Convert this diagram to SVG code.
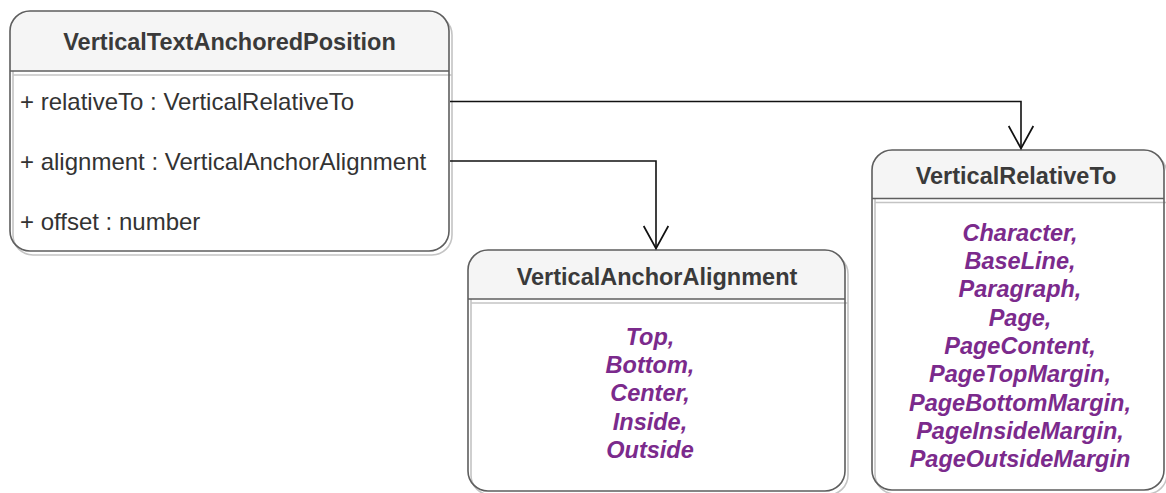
<svg xmlns="http://www.w3.org/2000/svg" width="1166" height="493" viewBox="0 0 1166 493">
  <style>
    .shadow { fill: none; stroke: #c4c4c4; stroke-width: 1.6; }
    .hdr { fill: #f5f5f5; stroke: none; }
    .outline { fill: none; stroke: #5e5e5e; stroke-width: 1.6; }
    .title { font-family: "Liberation Sans", Arial, Helvetica, sans-serif; font-size: 23.5px; font-weight: bold; fill: #3a3a3a; text-anchor: middle; }
    .attr { font-family: "Liberation Sans", Arial, Helvetica, sans-serif; font-size: 24px; fill: #333333; }
    .enum { font-family: "Liberation Sans", Arial, Helvetica, sans-serif; font-size: 23.5px; font-weight: bold; font-style: italic; fill: #7b2a8c; text-anchor: middle; }
    .edge { fill: none; stroke: #111111; stroke-width: 1.6; }
  </style>
  <defs>
    <marker id="open" markerUnits="userSpaceOnUse" markerWidth="30" markerHeight="30" viewBox="-2 -14 26 28" refX="21" refY="0" orient="auto">
      <path d="M0,-11.5 L21,0 L0,11.5" fill="none" stroke="#111111" stroke-width="1.6"/>
    </marker>
  </defs>
  <rect x="0" y="0" width="1166" height="493" fill="#ffffff"/>

  <g id="node-VerticalTextAnchoredPosition">
    <g class="shadow" transform="translate(3,4)">
      <path d="M10,31 A20,20 0 0 1 30,11 H429 A20,20 0 0 1 449,31 V231 A20,20 0 0 1 429,251 H30 A20,20 0 0 1 10,231 Z"/>
      <path d="M10,71 H449"/>
    </g>
    <path class="hdr" d="M10,71 V31 A20,20 0 0 1 30,11 H429 A20,20 0 0 1 449,31 V71 Z"/>
    <path class="outline" d="M10,31 A20,20 0 0 1 30,11 H429 A20,20 0 0 1 449,31 V231 A20,20 0 0 1 429,251 H30 A20,20 0 0 1 10,231 Z"/>
    <path class="outline" d="M10,71 H449"/>
    <text class="title" x="229.5" y="50">VerticalTextAnchoredPosition</text>
    <text class="attr" x="20" y="110">+ relativeTo : VerticalRelativeTo</text>
    <text class="attr" x="20" y="170">+ alignment : VerticalAnchorAlignment</text>
    <text class="attr" x="20" y="230">+ offset : number</text>
  </g>

  <g id="node-VerticalAnchorAlignment">
    <g class="shadow" transform="translate(3,4)">
      <path d="M468,270 A20,20 0 0 1 488,250 H825 A20,20 0 0 1 845,270 V471 A20,20 0 0 1 825,491 H488 A20,20 0 0 1 468,471 Z"/>
      <path d="M468,299 H845"/>
    </g>
    <path class="hdr" d="M468,299 V270 A20,20 0 0 1 488,250 H825 A20,20 0 0 1 845,270 V299 Z"/>
    <path class="outline" d="M468,270 A20,20 0 0 1 488,250 H825 A20,20 0 0 1 845,270 V471 A20,20 0 0 1 825,491 H488 A20,20 0 0 1 468,471 Z"/>
    <path class="outline" d="M468,299 H845"/>
    <text class="title" x="657" y="284.5">VerticalAnchorAlignment</text>
    <text class="enum" x="650" y="344.5">Top,</text>
    <text class="enum" x="650" y="373">Bottom,</text>
    <text class="enum" x="650" y="401.3">Center,</text>
    <text class="enum" x="650" y="429.6">Inside,</text>
    <text class="enum" x="650" y="458">Outside</text>
  </g>

  <g id="node-VerticalRelativeTo">
    <g class="shadow" transform="translate(3,4)">
      <path d="M872,170 A20,20 0 0 1 892,150 H1144 A20,20 0 0 1 1164,170 V470 A20,20 0 0 1 1144,490 H892 A20,20 0 0 1 872,470 Z"/>
      <path d="M872,198.5 H1164"/>
    </g>
    <path class="hdr" d="M872,198.5 V170 A20,20 0 0 1 892,150 H1144 A20,20 0 0 1 1164,170 V198.5 Z"/>
    <path class="outline" d="M872,170 A20,20 0 0 1 892,150 H1144 A20,20 0 0 1 1164,170 V470 A20,20 0 0 1 1144,490 H892 A20,20 0 0 1 872,470 Z"/>
    <path class="outline" d="M872,198.5 H1164"/>
    <text class="title" x="1016" y="184">VerticalRelativeTo</text>
    <text class="enum" x="1020" y="240.7">Character,</text>
    <text class="enum" x="1020" y="269">BaseLine,</text>
    <text class="enum" x="1020" y="297.3">Paragraph,</text>
    <text class="enum" x="1020" y="325.6">Page,</text>
    <text class="enum" x="1020" y="354">PageContent,</text>
    <text class="enum" x="1020" y="382.3">PageTopMargin,</text>
    <text class="enum" x="1020" y="410.6">PageBottomMargin,</text>
    <text class="enum" x="1020" y="439">PageInsideMargin,</text>
    <text class="enum" x="1020" y="467.3">PageOutsideMargin</text>
  </g>

  <g id="connectors">
    <path class="edge" d="M450,101.5 H1021 V148.5" marker-end="url(#open)"/>
    <path class="edge" d="M450,161 H656 V248.5" marker-end="url(#open)"/>
  </g>
</svg>
